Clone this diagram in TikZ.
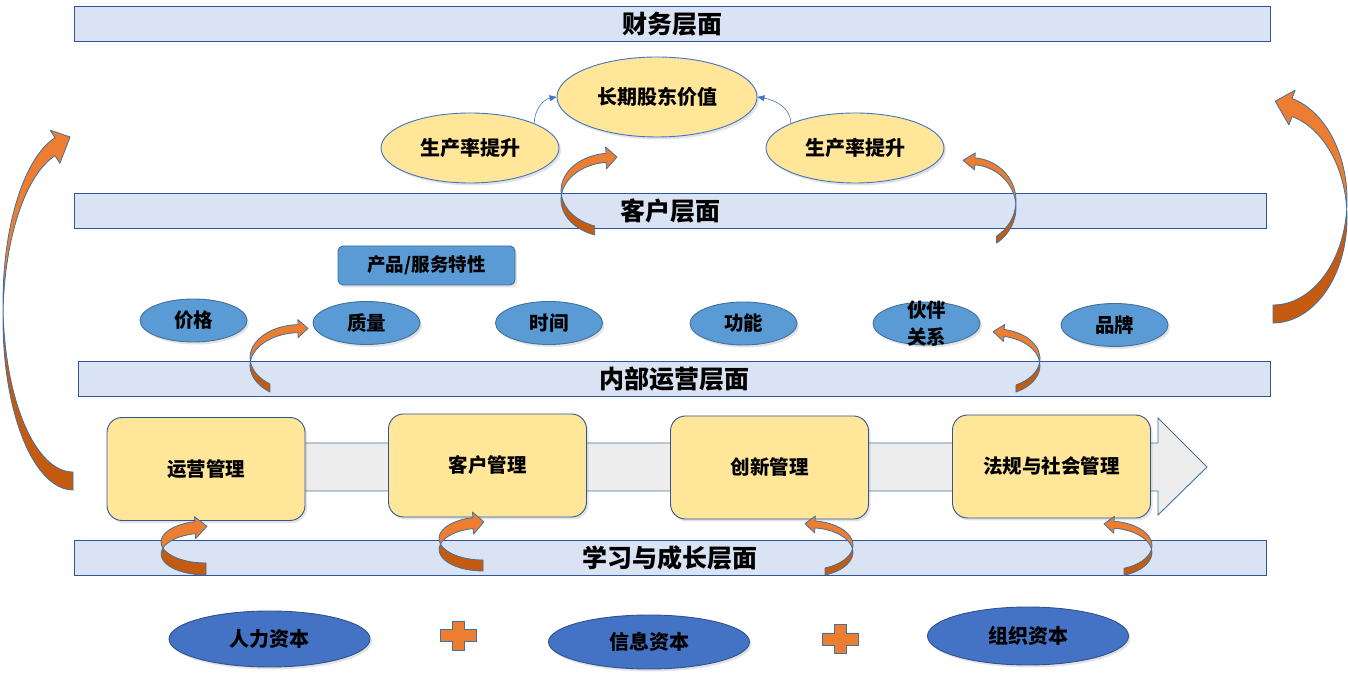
\documentclass[tikz,border=0pt]{standalone}
\usepackage{fontspec}
\setmainfont{Noto Sans CJK SC}
\usetikzlibrary{shapes.geometric,arrows.meta,shadows}

\definecolor{bandfill}{HTML}{DAE3F3}
\definecolor{bandline}{HTML}{2F5597}
\definecolor{goldfill}{HTML}{FFE699}
\definecolor{skyfill}{HTML}{5B9BD5}
\definecolor{skyline}{HTML}{41719C}
\definecolor{navyfill}{HTML}{4472C4}
\definecolor{navyline}{HTML}{2F528F}
\definecolor{flowgray}{HTML}{EDEDED}
\definecolor{orangefront}{HTML}{ED7D31}
\definecolor{orangeback}{HTML}{C55A11}

\tikzset{
  band/.style={draw=bandline, fill=bandfill, line width=1pt, minimum height=35pt,
    inner sep=0pt, font=\bfseries\fontsize{25}{30}\selectfont},
  softshadow/.style={drop shadow={shadow xshift=2pt, shadow yshift=-2.5pt, opacity=0.22}},
  goal/.style={ellipse, draw=navyfill, fill=goldfill, line width=0.9pt, inner sep=0pt,
    softshadow, font=\bfseries\fontsize{20}{24}\selectfont},
  feature/.style={ellipse, draw=skyline, fill=skyfill, line width=0.9pt, inner sep=0pt,
    minimum width=107pt, minimum height=43pt, softshadow, align=center,
    font=\bfseries\fontsize{19.5}{27}\selectfont},
  featbox/.style={draw=skyline, fill=skyfill, line width=0.9pt, rounded corners=5pt,
    minimum width=177pt, minimum height=39pt, softshadow,
    font=\bfseries\fontsize{18.5}{24}\selectfont},
  process/.style={draw=bandline, fill=goldfill, line width=0.9pt, rounded corners=15pt,
    minimum width=198pt, minimum height=103pt, softshadow,
    font=\bfseries\fontsize{19.5}{24}\selectfont},
  capital/.style={ellipse, draw=navyline, fill=navyfill, line width=0.9pt, inner sep=0pt,
    minimum width=201pt, minimum height=56pt, softshadow,
    font=\bfseries\fontsize{20}{24}\selectfont},
  flow/.style={draw=skyline, fill=flowgray, line width=0.9pt},
  link/.style={draw=navyfill, line width=0.6pt, -{Triangle[length=7pt,width=6pt]}},
  arrfront/.style={draw=skyline, fill=orangefront, line width=0.8pt, line join=round},
  arrback/.style={draw=skyline, fill=orangeback, line width=0.8pt, line join=round},
  plusfill/.style={draw=skyline, fill=orangefront, line width=0.8pt}
}

% curved ribbon arrow: #1 placement, #2 x radius, #3 y radius, #4 thickness,
% #5 tail angle, #6 head angle, #7 head length, #8 barb
\newcommand{\bendarrow}[8]{%
  \begin{scope}[#1]
    \pgfmathsetmacro\arD{asin(#4/(2*#3))}
    \pgfmathsetmacro\arC{cos(#6)}
    \pgfmathsetmacro\arS{sin(#6)}
    \pgfmathsetmacro\arN{sqrt((#2*\arS)^2+(#3*\arC)^2)}
    \pgfmathsetmacro\arX{#2*\arS/\arN}
    \pgfmathsetmacro\arY{-#3*\arC/\arN}
    \pgfmathsetmacro\arHx{#2+#2*\arC}
    \pgfmathsetmacro\arHy{#3+#3*\arS}
    \filldraw[arrback] ({#2+#2*cos(#5)},{#3+#3*sin(#5)})
      arc[start angle=#5, end angle=180-\arD, x radius=#2pt, y radius=#3pt]
      arc[start angle=180+\arD, end angle=#5, x radius=#2pt, y radius=#3pt] -- cycle;
    \filldraw[arrfront] ({#2+#2*cos(180-\arD)},{#3+#3*sin(180-\arD)})
      arc[start angle=180-\arD, end angle=#6, x radius=#2pt, y radius=#3pt]
      -- ({\arHx+\arY*#8},{\arHy-\arX*#8})
      -- ({\arHx+#7*\arX},{\arHy+#4/2+#7*\arY})
      -- ({\arHx-\arY*#8},{\arHy+#4+\arX*#8})
      -- (\arHx,{\arHy+#4})
      arc[start angle=#6, end angle=180+\arD, x radius=#2pt, y radius=#3pt] -- cycle;
  \end{scope}}

\begin{document}
\begin{tikzpicture}[x=1pt,y=1pt]
  \useasboundingbox (0,0) rectangle (1348,679);

  % levels
  \node[band, minimum width=1196pt] (fin) at (672,654.5) {财务层面};
  \node[band, minimum width=1192pt] (cust) at (670,468) {客户层面};
  \node[band, minimum width=1192pt] (intl) at (674,299.5) {内部运营层面};
  \node[band, minimum width=1192pt] (learn) at (670,121) {学习与成长层面};

  % financial
  \node[goal, minimum width=200pt, minimum height=80pt] (value) at (657,582) {长期股东价值};
  \node[goal, minimum width=178pt, minimum height=70pt] (prodL) at (470,531) {生产率提升};
  \node[goal, minimum width=178pt, minimum height=70pt] (prodR) at (855,531) {生产率提升};
  \draw[link] (prodL.21) to[out=90,in=190] (value.west);
  \draw[link] (prodR.159) to[out=90,in=-10] (value.east);

  % customer
  \node[featbox] (feat) at (426.5,413.5) {产品/服务特性};
  \node[feature] (price) at (193.5,358.5) {价格};
  \node[feature] (quality) at (366.5,356) {质量};
  \node[feature] (time) at (549,356) {时间};
  \node[feature] (func) at (743.5,355.5) {功能};
  \node[feature, inner ysep=-10pt] (partner) at (926.5,355.5) {伙伴\\关系};
  \node[feature] (brand) at (1114.5,354) {品牌};

  % internal
  \draw[flow] (200,236) -- (1158,236) -- (1158,261) -- (1207,212)
    -- (1158,164) -- (1158,188) -- (200,188) -- cycle;
  \node[process] (ops) at (206,210) {运营管理};
  \node[process] (crm) at (487.5,213.5) {客户管理};
  \node[process] (innov) at (769.5,211.5) {创新管理};
  \node[process] (reg) at (1051.5,212.5) {法规与社会管理};

  % learning
  \node[capital] (human) at (269.5,40) {人力资本};
  \node[capital, minimum height=54pt] (info) at (649,37) {信息资本};
  \node[capital, minimum height=58pt] (org) at (1028,43) {组织资本};
  \foreach \px/\py in {458/43.5, 840/40}
    \draw[plusfill, shift={(\px,\py)}] (-6,14.5) -- (6,14.5) -- (6,6) -- (18,6)
      -- (18,-6) -- (6,-6) -- (6,-14.5) -- (-6,-14.5) -- (-6,-6) -- (-18,-6)
      -- (-18,6) -- (-6,6) -- cycle;

  % curved arrows
  \bendarrow{shift={(3,189)}}{70}{170}{18}{270}{104.9}{18}{9}
  \bendarrow{shift={(1347,356)}, xscale=-1}{74}{105}{18}{270}{104.9}{18}{9}
  \bendarrow{shift={(561,442)}}{50}{37.4}{9}{251}{95.7}{11}{6.5}
  \bendarrow{shift={(1016,428.3)}, xscale=-1}{45}{43}{7}{235.3}{95}{12}{5}
  \bendarrow{shift={(250,280.4)}}{50}{33}{8}{233}{92.3}{10}{5}
  \bendarrow{shift={(1040,283.8)}, xscale=-1}{44}{29.6}{7}{243}{100.5}{11}{5}
  \bendarrow{shift={(161,104)}}{45}{21}{12}{270}{104.1}{12}{5}
  \bendarrow{shift={(439,108)}}{44}{21.5}{11}{270}{103.1}{11}{5.5}
  \bendarrow{shift={(853,102.3)}, xscale=-1}{44}{24.5}{7}{248.6}{97.8}{10}{5}
  \bendarrow{shift={(1152,102)}, xscale=-1}{44}{24.5}{7}{248.6}{97.8}{10}{5}
\end{tikzpicture}
\end{document}
